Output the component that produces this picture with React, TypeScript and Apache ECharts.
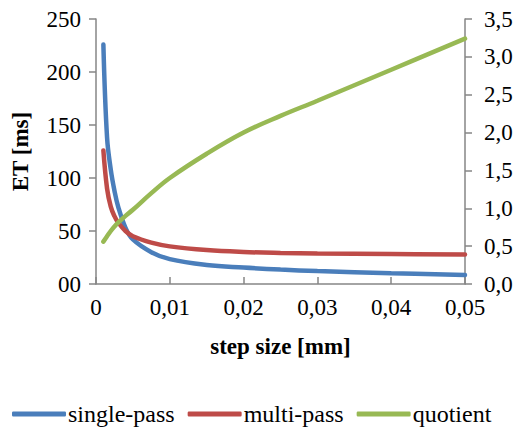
import React, { useEffect, useRef } from "react";
import * as echarts from "echarts";

const stepSizes = [0.001, 0.0015, 0.002, 0.0025, 0.003, 0.004, 0.005, 0.0075, 0.01, 0.015, 0.02, 0.025, 0.03, 0.04, 0.05];
const singlePass = [226, 138, 108, 88, 73, 53, 42, 30, 23.5, 18, 15.5, 13.6, 12.2, 10.2, 8.5];
const multiPass = [126, 90, 73, 64, 58, 50, 45, 39, 35.5, 32, 30.2, 29.3, 28.8, 28.3, 27.8];
const quotient = [0.56, 0.63, 0.7, 0.76, 0.81, 0.9, 0.98, 1.2, 1.4, 1.72, 2.0, 2.22, 2.42, 2.83, 3.24];
const seriesNames = ["single-pass", "multi-pass", "quotient"];
const colors = ["#4a7ebb", "#be4b48", "#98b954"];

const FONT = "Liberation Serif";

export default function App() {
  const ref = useRef<HTMLDivElement>(null);
  useEffect(() => {
    if (!ref.current) return;
    const chart = echarts.init(ref.current, undefined, { renderer: "svg" });
    const pair = (ys: number[]) => stepSizes.map((x, i) => [x, ys[i]]);
    const axisLine = { show: true, lineStyle: { color: "#868686", width: 1.5 } };
    const label = { color: "#000", fontFamily: FONT, fontSize: 23, fontWeight: "normal" };
    chart.setOption({
      animation: false,
      textStyle: { fontFamily: FONT },
      grid: { left: 96, right: 52, top: 19, bottom: 146, containLabel: false },
      legend: {
        data: seriesNames,
        left: 12,
        top: 402,
        padding: 0,
        itemWidth: 54,
        itemHeight: 5,
        itemGap: 13,
        icon: "roundRect",
        textStyle: { color: "#000", fontFamily: FONT, fontSize: 24, fontWeight: "normal", padding: [0, 0, 0, -3] },
      },
      xAxis: {
        type: "value",
        min: 0,
        max: 0.05,
        interval: 0.01,
        axisLine,
        axisTick: { show: true, inside: true, length: 7, lineStyle: { color: "#868686", width: 1.5 } },
        splitLine: { show: false },
        axisLabel: {
          ...label,
          margin: 12,
          formatter: (v: number) => (v === 0 ? "0" : v.toFixed(2).replace(".", ",")),
        },
        name: "step size [mm]",
        nameLocation: "middle",
        nameGap: 51,
        nameTextStyle: { color: "#000", fontFamily: FONT, fontSize: 23, fontWeight: "bold" },
      },
      yAxis: [
        {
          type: "value",
          min: 0,
          max: 250,
          interval: 50,
          axisLine,
          axisTick: { show: true, length: 7, lineStyle: { color: "#868686", width: 1.5 } },
          splitLine: { show: false },
          axisLabel: { ...label, margin: 15, formatter: (v: number) => (v === 0 ? "00" : String(v)) },
          name: "ET [ms]",
          nameLocation: "middle",
          nameGap: 64,
          nameTextStyle: { color: "#000", fontFamily: FONT, fontSize: 23, fontWeight: "bold" },
        },
        {
          type: "value",
          min: 0,
          max: 3.5,
          interval: 0.5,
          position: "right",
          axisLine,
          axisTick: { show: true, length: 7, lineStyle: { color: "#868686", width: 1.5 } },
          splitLine: { show: false },
          axisLabel: { ...label, margin: 19, formatter: (v: number) => v.toFixed(1).replace(".", ",") },
        },
      ],
      series: [
        { name: seriesNames[0], data: pair(singlePass), yAxisIndex: 0 },
        { name: seriesNames[1], data: pair(multiPass), yAxisIndex: 0 },
        { name: seriesNames[2], data: pair(quotient), yAxisIndex: 1 },
      ].map((s, i) => ({
        ...s,
        type: "line",
        smooth: 0.4,
        symbol: "none",
        color: colors[i],
        lineStyle: { width: 4.5, color: colors[i], cap: "round" },
      })),
    });
    return () => chart.dispose();
  }, []);
  return <div ref={ref} style={{ position: "absolute", left: 0, top: 0, width: 517, height: 430 }} />;
}
